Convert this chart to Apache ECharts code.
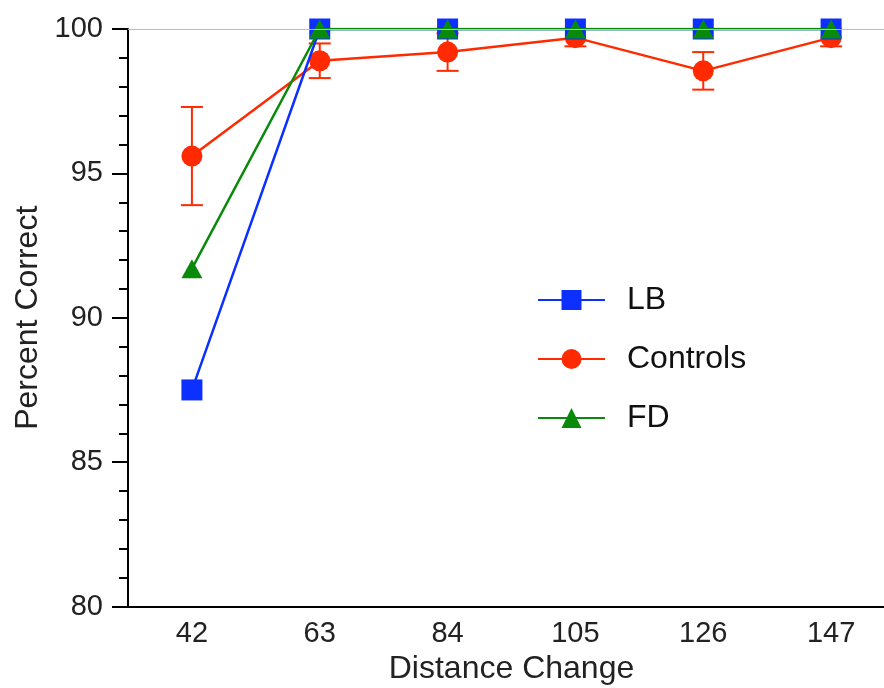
<!DOCTYPE html>
<html>
<head>
<meta charset="utf-8">
<script src="https://cdn.jsdelivr.net/npm/echarts@6/dist/echarts.min.js"></script>
<style>html,body{margin:0;padding:0;background:#fff;}#c{width:884px;height:688px;}</style>
</head>
<body>
<div id="c"></div>
<script>
const categories = ['42', '63', '84', '105', '126', '147'];
const lbValues = [87.5, 100, 100, 100, 100, 100];
const controlsValues = [95.6, 98.9, 99.2, 99.7, 98.55, 99.7];
const controlsError = [1.7, 0.6, 0.65, 0.3, 0.65, 0.3];
const fdValues = [91.7, 100, 100, 100, 100, 100];
const yTicks = { min: 80, max: 100, interval: 5 };

const RED = '#ff2a00', BLUE = '#0b30ff', GREEN = '#0a8a0a';
const FONT = 'Liberation Sans';

const errData = categories.map((c, i) => [i, controlsValues[i] - controlsError[i], controlsValues[i] + controlsError[i]]);

const chart = echarts.init(document.getElementById('c'));
chart.setOption({
  animation: false,
  textStyle: { fontFamily: FONT },
  grid: { left: 128, width: 767, top: 29, bottom: 81.5, outerBoundsMode: 'none', containLabel: false },
  legend: {
    orient: 'vertical',
    left: 532, top: 279,
    itemWidth: 67, itemHeight: 25, itemGap: 27,
    textStyle: { fontSize: 32, color: '#111', fontFamily: FONT, padding: [0, 0, 0, 17] },
    data: ['LB', 'Controls', 'FD']
  },
  xAxis: {
    type: 'category',
    data: categories,
    boundaryGap: true,
    axisLine: { lineStyle: { color: '#000', width: 2 } },
    axisTick: { show: false },
    axisLabel: { fontSize: 29, color: '#222', margin: 13, fontFamily: FONT },
    name: 'Distance Change',
    nameLocation: 'middle',
    nameGap: 45,
    nameTextStyle: { fontSize: 32, color: '#222', fontFamily: FONT },
    splitLine: { show: false }
  },
  yAxis: {
    type: 'value',
    min: yTicks.min, max: yTicks.max, interval: yTicks.interval,
    axisLine: { show: true, lineStyle: { color: '#000', width: 2 } },
    axisTick: { show: true, length: 16, lineStyle: { color: '#000', width: 2 } },
    minorTick: { show: true, splitNumber: 5, length: 9, lineStyle: { color: '#000', width: 2 } },
    axisLabel: { fontSize: 29, color: '#222', margin: 25, fontFamily: FONT },
    splitLine: { show: false },
    name: 'Percent Correct',
    nameLocation: 'middle',
    nameGap: 84,
    nameTextStyle: { fontSize: 32, color: '#222', fontFamily: FONT }
  },
  series: [
    {
      type: 'custom',
      name: 'err',
      z: 1,
      silent: true,
      data: errData,
      renderItem: function (params, api) {
        const x = api.value(0);
        const lo = api.coord([x, api.value(1)]);
        const hi = api.coord([x, api.value(2)]);
        const hw = 11;
        const style = { stroke: RED, lineWidth: 2 };
        return {
          type: 'group',
          children: [
            { type: 'line', shape: { x1: lo[0], y1: lo[1], x2: hi[0], y2: hi[1] }, style: style },
            { type: 'line', shape: { x1: lo[0] - hw, y1: lo[1], x2: lo[0] + hw, y2: lo[1] }, style: style },
            { type: 'line', shape: { x1: hi[0] - hw, y1: hi[1], x2: hi[0] + hw, y2: hi[1] }, style: style }
          ]
        };
      }
    },
    {
      type: 'line',
      name: 'Controls',
      z: 2,
      data: controlsValues,
      symbol: 'circle',
      symbolSize: 21,
      itemStyle: { color: RED },
      lineStyle: { color: RED, width: 2.5 },
      markLine: {
        silent: true,
        symbol: 'none',
        label: { show: false },
        lineStyle: { color: '#bbbbbb', width: 1.2, type: 'solid' },
        data: [{ yAxis: 100 }]
      }
    },
    {
      type: 'line',
      name: 'LB',
      z: 3,
      data: lbValues,
      symbol: 'rect',
      symbolSize: 21,
      itemStyle: { color: BLUE },
      lineStyle: { color: BLUE, width: 2.5 }
    },
    {
      type: 'line',
      name: 'FD',
      z: 4,
      data: fdValues,
      symbol: 'triangle',
      symbolSize: [21, 19],
      itemStyle: { color: GREEN },
      lineStyle: { color: GREEN, width: 2.5 }
    }
  ]
});
</script>
</body>
</html>
